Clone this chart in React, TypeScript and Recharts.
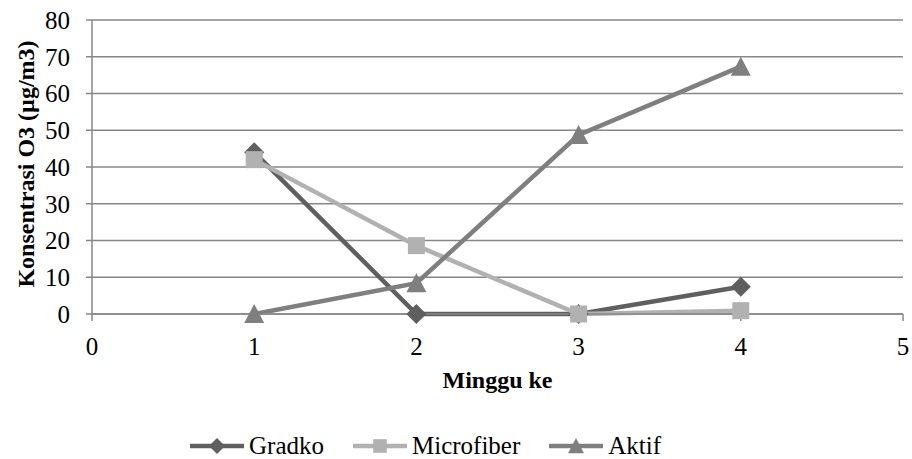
// Konsentrasi O3 per minggu — three sampler types, Excel-style grey line chart.

import React from 'react'
import { LineChart, Line, XAxis, YAxis, CartesianGrid, Label } from 'recharts'

const weeks = [1, 2, 3, 4]
const gradko = [44, 0, 0, 7.4]
const microfiber = [42, 18.6, 0, 0.9]
const aktif = [0, 8.4, 48.7, 67.3]

const xTicks = [0, 1, 2, 3, 4, 5]
const yTicks = [0, 10, 20, 30, 40, 50, 60, 70, 80]

const FONT = '"Liberation Serif", serif'
const GRID = '#878787'

const COLORS = {
  gradko: '#5f5f5f',
  microfiber: '#b1b1b1',
  aktif: '#7f7f7f',
}

const data = weeks.map((w, i) => ({
  week: w,
  gradko: gradko[i],
  microfiber: microfiber[i],
  aktif: aktif[i],
}))

type Shape = 'diamond' | 'square' | 'triangle'

function markerPath(shape: Shape, cx: number, cy: number, k = 1): string {
  if (shape === 'diamond') {
    const r = 10 * k
    return `M${cx},${cy - r}L${cx + r},${cy}L${cx},${cy + r}L${cx - r},${cy}Z`
  }
  if (shape === 'square') {
    const h = 8.5 * k
    return `M${cx - h},${cy - h}H${cx + h}V${cy + h}H${cx - h}Z`
  }
  const w = 10 * k
  return `M${cx},${cy - 10 * k}L${cx + w},${cy + 9 * k}L${cx - w},${cy + 9 * k}Z`
}

function makeDot(shape: Shape, color: string) {
  return (props: any) => {
    const { cx, cy, index } = props
    if (cx == null || cy == null) return <g key={index} />
    return <path key={index} d={markerPath(shape, cx, cy)} fill={color} />
  }
}

const SERIES: { key: keyof typeof COLORS; name: string; shape: Shape }[] = [
  { key: 'gradko', name: 'Gradko', shape: 'diamond' },
  { key: 'microfiber', name: 'Microfiber', shape: 'square' },
  { key: 'aktif', name: 'Aktif', shape: 'triangle' },
]

function YTitle() {
  return (
    <text
      x={26}
      y={164}
      transform="rotate(-90 26 164)"
      textAnchor="middle"
      dominantBaseline="central"
      fontFamily={FONT}
      fontWeight="bold"
      fontSize={24}
      fill="#000"
    >
      Konsentrasi O3 (µg/m3)
    </text>
  )
}

export default function App() {
  const tick = { fontSize: 25, fontFamily: FONT, fill: '#000' }
  return (
    <div style={{ position: 'relative', width: 912, height: 459, background: '#fff' }}>
      <style>{'body{margin:0}'}</style>
      <LineChart
        width={912}
        height={459}
        data={data}
        margin={{ top: 20, right: 9, left: 0, bottom: 0 }}
      >
        <CartesianGrid vertical={false} stroke={GRID} strokeWidth={1.5} />
        <XAxis
          type="number"
          dataKey="week"
          domain={[0, 5]}
          ticks={xTicks}
          interval={0}
          height={145}
          tick={tick}
          tickSize={7}
          tickMargin={16}
          axisLine={{ stroke: GRID, strokeWidth: 1.5 }}
          tickLine={{ stroke: GRID, strokeWidth: 1.5 }}
        >
          <Label
            value="Minggu ke"
            position="insideTop"
            offset={57}
            fontFamily={FONT}
            fontWeight="bold"
            fontSize={24}
            fill="#000"
          />
        </XAxis>
        <YAxis
          type="number"
          domain={[0, 80]}
          ticks={yTicks}
          interval={0}
          width={92}
          tick={tick}
          tickSize={6}
          tickMargin={16}
          axisLine={{ stroke: GRID, strokeWidth: 1.5 }}
          tickLine={{ stroke: GRID, strokeWidth: 1.5 }}
        >
          <Label content={<YTitle />} />
        </YAxis>
        {SERIES.map((s) => (
          <Line
            key={s.key}
            dataKey={s.key}
            name={s.name}
            type="linear"
            stroke={COLORS[s.key]}
            strokeWidth={4.5}
            dot={makeDot(s.shape, COLORS[s.key])}
            activeDot={false}
            isAnimationActive={false}
          />
        ))}
      </LineChart>

      <div
        style={{
          position: 'absolute',
          top: 432,
          left: 190,
          height: 28,
          display: 'flex',
          alignItems: 'center',
          gap: 29,
          fontFamily: FONT,
          fontSize: 25,
          color: '#000',
          lineHeight: '28px',
          whiteSpace: 'nowrap',
        }}
      >
        {SERIES.map((s) => (
          <div key={s.key} style={{ display: 'flex', alignItems: 'center', gap: 5 }}>
            <svg width={54} height={22} style={{ display: 'block' }}>
              <line x1={0} y1={11} x2={54} y2={11} stroke={COLORS[s.key]} strokeWidth={4.5} />
              <path d={markerPath(s.shape, 27, 11, 0.8)} fill={COLORS[s.key]} />
            </svg>
            <span>{s.name}</span>
          </div>
        ))}
      </div>
    </div>
  )
}
